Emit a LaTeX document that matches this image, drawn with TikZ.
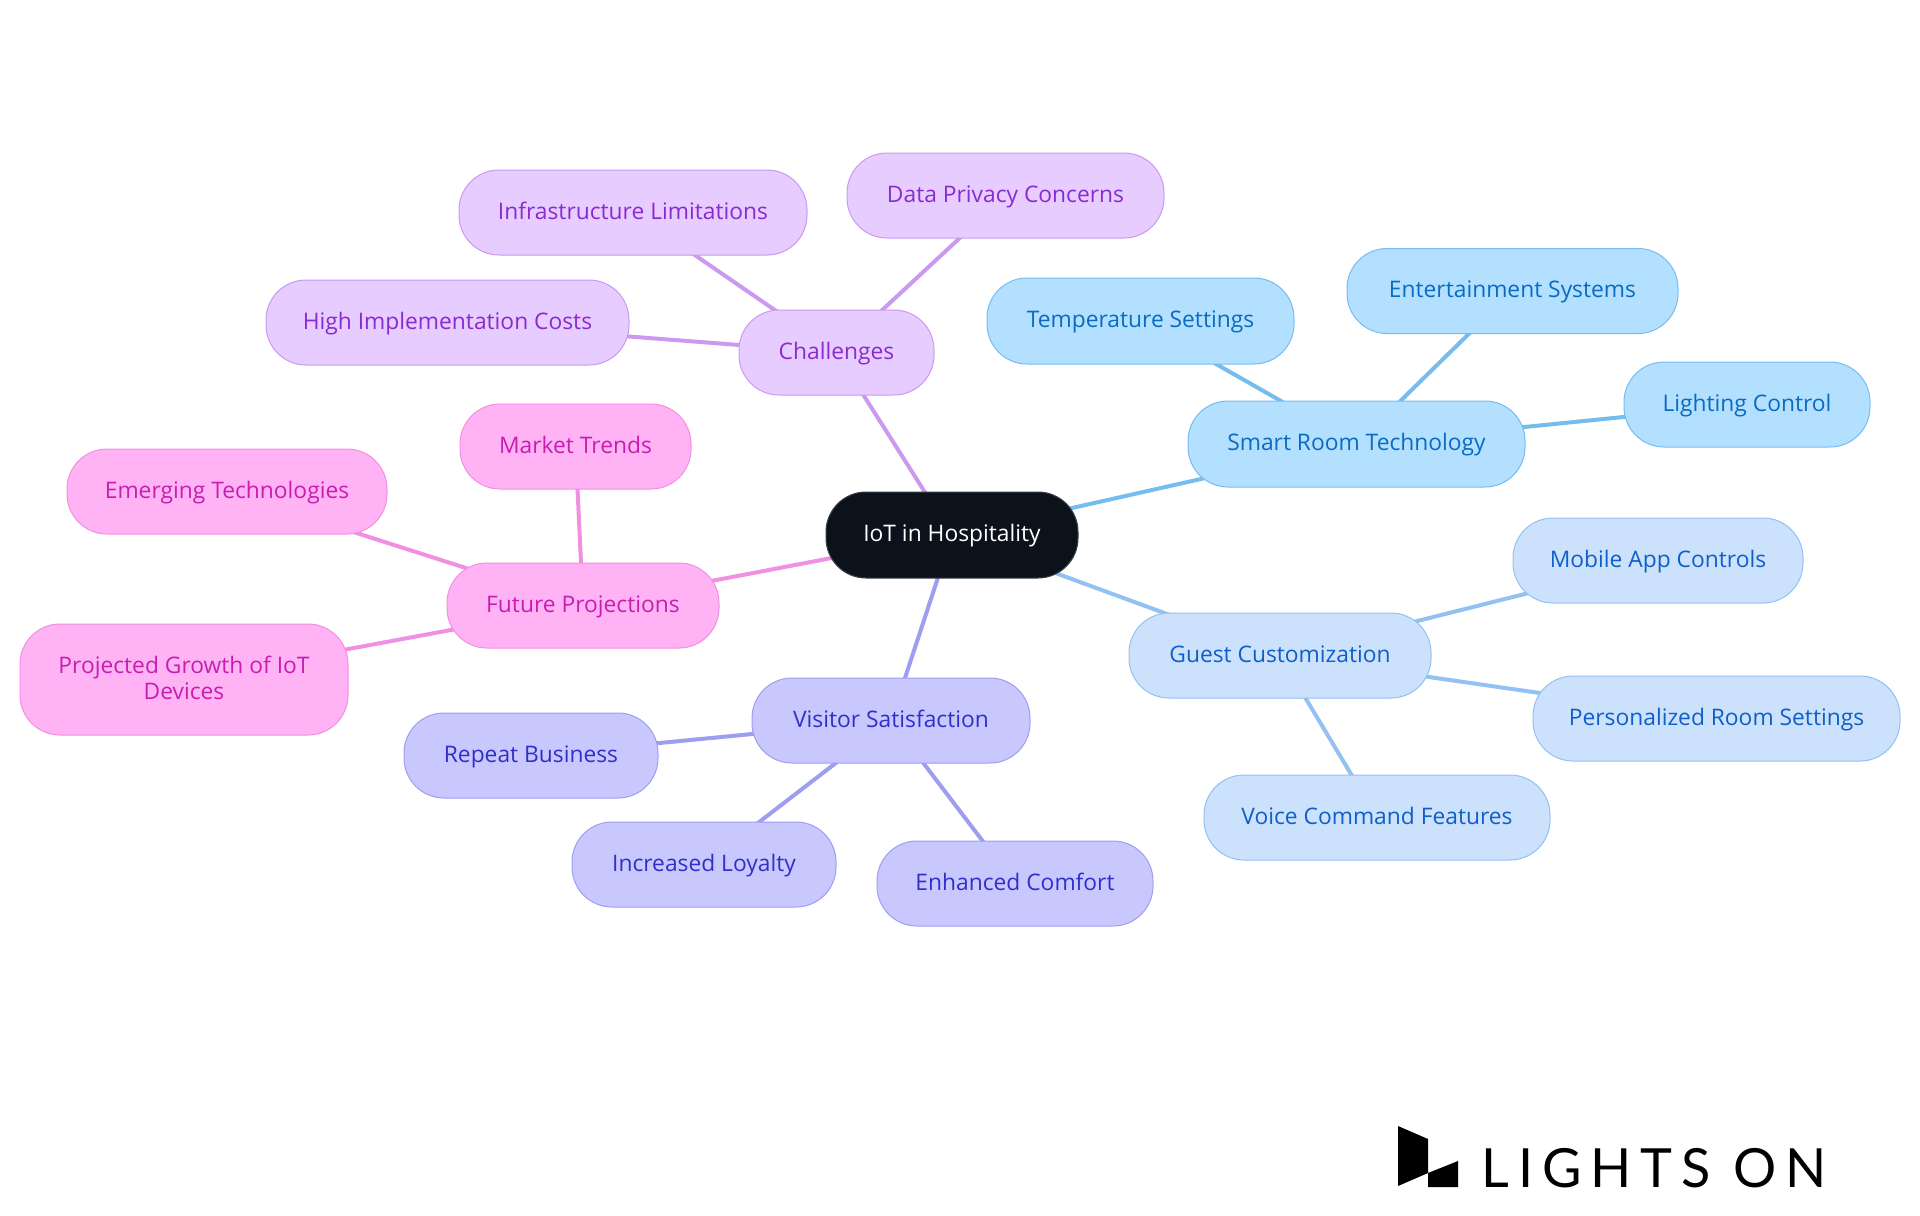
\documentclass[tikz,border=0pt]{standalone}
\usepackage{fontspec}
\setmainfont{Open Sans}
\newfontfamily\logofont[LetterSpace=16.5]{Lato}
\pgfdeclarelayer{edges}
\pgfsetlayers{edges,main}
\definecolor{rootfill}{HTML}{0B121B}\definecolor{rootline}{HTML}{3A3F46}
\definecolor{smartfill}{HTML}{B3E0FF}\definecolor{smartline}{HTML}{77BCEF}\definecolor{smarttext}{HTML}{0A6BC2}
\definecolor{guestfill}{HTML}{CCE2FC}\definecolor{guestline}{HTML}{93C1F2}\definecolor{guesttext}{HTML}{0F5FC8}
\definecolor{visitfill}{HTML}{C8C8FF}\definecolor{visitline}{HTML}{9E9EF0}\definecolor{visittext}{HTML}{3030C8}
\definecolor{futurefill}{HTML}{FFB3F5}\definecolor{futureline}{HTML}{F190E0}\definecolor{futuretext}{HTML}{C81EB0}
\definecolor{chalfill}{HTML}{E6CCFF}\definecolor{challine}{HTML}{CC99F0}\definecolor{chaltext}{HTML}{8A2BD0}
\tikzset{
  box/.style 2 args={minimum width=#1*0.5pt,minimum height=#2*0.5pt,inner sep=0pt,rounded corners=20pt,line width=0.5pt,align=center,text height=9pt,text depth=2.4pt,font=\fontsize{11.4}{13}\selectfont},
  rootnode/.style={draw=rootline,fill=rootfill,text=white},
  smart/.style={draw=smartline,fill=smartfill,text=smarttext},
  guest/.style={draw=guestline,fill=guestfill,text=guesttext},
  visit/.style={draw=visitline,fill=visitfill,text=visittext},
  future/.style={draw=futureline,fill=futurefill,text=futuretext},
  chal/.style={draw=challine,fill=chalfill,text=chaltext},
  link/.style={line width=2pt}
}
\begin{document}
\begin{tikzpicture}[x=0.5pt,y=-0.5pt]
\useasboundingbox (0,0) rectangle (1920,1215);
\node[box={252}{86},rootnode] (root) at (952,535) {IoT in Hospitality};
\node[box={337}{86},smart] (sm) at (1356.5,444) {Smart Room Technology};
\node[box={307}{86},smart] (sm1) at (1140.5,321) {Temperature Settings};
\node[box={331}{85},smart] (sm2) at (1512.5,291) {Entertainment Systems};
\node[box={246}{85},smart] (sm3) at (1747,404.5) {Lighting Control};
\node[box={302}{85},guest] (gu) at (1280,655.5) {Guest Customization};
\node[box={290}{85},guest] (gu1) at (1658,560.5) {Mobile App Controls};
\node[box={367}{85},guest] (gu2) at (1716.5,718.5) {Personalized Room Settings};
\node[box={346}{85},guest] (gu3) at (1377,817.5) {Voice Command Features};
\node[box={278}{85},visit] (vi) at (891,720.5) {Visitor Satisfaction};
\node[box={254}{85},visit] (vi1) at (531,755.5) {Repeat Business};
\node[box={264}{85},visit] (vi2) at (704,864.5) {Increased Loyalty};
\node[box={276}{85},visit] (vi3) at (1015,883.5) {Enhanced Comfort};
\node[box={272}{85},future] (fu) at (583,605.5) {Future Projections};
\node[box={231}{85},future] (fu1) at (575.5,446.5) {Market Trends};
\node[box={320}{85},future] (fu2) at (227,491.5) {Emerging Technologies};
\node[box={328}{111},future,text height=22pt] (fu3) at (184,679.5) {Projected Growth of IoT\\Devices};
\node[box={195}{85},chal] (ch) at (836.5,352.5) {Challenges};
\node[box={348}{85},chal] (ch1) at (633,212.5) {Infrastructure Limitations};
\node[box={317}{85},chal] (ch2) at (1005.5,195.5) {Data Privacy Concerns};
\node[box={363}{85},chal] (ch3) at (447.5,322.5) {High Implementation Costs};
\begin{pgfonlayer}{edges}
\draw[link,draw=smartline] (root.center) -- (sm.center);
\draw[link,draw=smartline] (sm.center) -- (sm1.center);
\draw[link,draw=smartline] (sm.center) -- (sm2.center);
\draw[link,draw=smartline] (sm.center) -- (sm3.center);
\draw[link,draw=guestline] (root.center) -- (gu.center);
\draw[link,draw=guestline] (gu.center) -- (gu1.center);
\draw[link,draw=guestline] (gu.center) -- (gu2.center);
\draw[link,draw=guestline] (gu.center) -- (gu3.center);
\draw[link,draw=visitline] (root.center) -- (vi.center);
\draw[link,draw=visitline] (vi.center) -- (vi1.center);
\draw[link,draw=visitline] (vi.center) -- (vi2.center);
\draw[link,draw=visitline] (vi.center) -- (vi3.center);
\draw[link,draw=futureline] (root.center) -- (fu.center);
\draw[link,draw=futureline] (fu.center) -- (fu1.center);
\draw[link,draw=futureline] (fu.center) -- (fu2.center);
\draw[link,draw=futureline] (fu.center) -- (fu3.center);
\draw[link,draw=challine] (root.center) -- (ch.center);
\draw[link,draw=challine] (ch.center) -- (ch1.center);
\draw[link,draw=challine] (ch.center) -- (ch2.center);
\draw[link,draw=challine] (ch.center) -- (ch3.center);
\end{pgfonlayer}
\fill[black] (1398,1126) -- (1428,1139) -- (1428,1173) -- (1398,1186) -- cycle;
\fill[black] (1428,1173) -- (1458,1161) -- (1458,1187) -- (1428,1187) -- cycle;
\node[anchor=base west,inner sep=0pt,font=\fontsize{27}{30}\logofont] (logo) at (1481,1187) {LIGHTS ON};
\end{tikzpicture}
\end{document}
